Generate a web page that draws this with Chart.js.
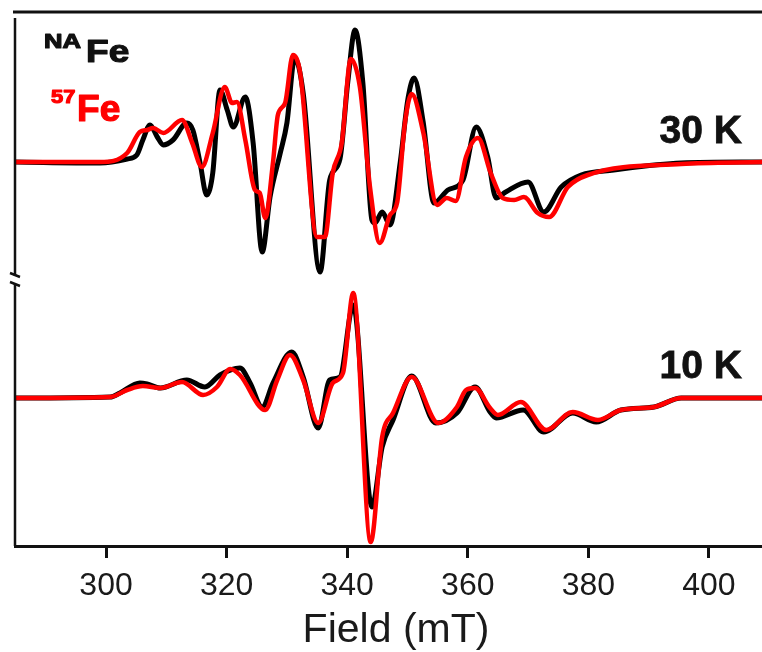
<!DOCTYPE html>
<html>
<head>
<meta charset="utf-8">
<script src="https://cdn.jsdelivr.net/npm/chart.js@4"></script>
<style>
  html, body { margin: 0; padding: 0; background: #fff; }
  canvas { display: block; }
</style>
</head>
<body>
<canvas id="chart" width="762" height="652"></canvas>
<script>
// EPR spectra, field in mT, signal in arbitrary units
const xTicks = [300, 320, 340, 360, 380, 400];
const fieldMin = 284.9;
const fieldMax = 408.8;
const offset30K = 236; // vertical stacking offset of the 30 K pair

// 30 K, natural abundance Fe (black)
const fieldNA30 = [284.9, 299.0, 303.5, 305.1, 306.1, 307.3, 308.5, 309.5, 311.1, 313.4, 314.4, 315.6, 316.7, 317.7, 318.9, 320.1, 321.1, 323.1, 324.4, 325.9, 327.2, 328.9, 330.0, 331.3, 332.7, 335.5, 337.1, 338.8, 340.1, 341.3, 342.6, 344.1, 344.6, 345.8, 347.1, 348.8, 350.1, 351.1, 352.6, 354.4, 356.7, 359.2, 361.4, 363.3, 364.7, 366.3, 370.0, 372.6, 375.5, 378.8, 384.2, 395.4, 408.8];
const signalNA30 = [0, -1, 3, 7, 22, 37, 25, 17, 22, 39, 32, -1, -33, -11, 72, 52, 35, 65, 19, -90, -35, 9, 39, 104, 69, -110, -18, 3, 80, 132, 79, -58, -61, -50, -63, 0, 64, 84, 40, -41, -28, -18, 35, 5, -36, -30, -20, -50, -25, -13, -8, -1, 0];

// 30 K, 57Fe (red)
const field5730 = [284.9, 299.0, 303.5, 305.6, 306.8, 307.8, 309.5, 312.6, 314.3, 315.9, 317.7, 319.7, 320.9, 321.7, 323.1, 324.7, 325.5, 326.4, 327.7, 328.5, 329.7, 331.0, 332.2, 335.0, 336.3, 337.6, 339.1, 340.6, 342.1, 343.8, 345.4, 347.1, 348.3, 349.6, 350.7, 352.6, 354.9, 356.5, 358.0, 359.7, 361.7, 363.8, 365.8, 367.7, 369.3, 371.6, 373.5, 376.6, 379.9, 395.4, 408.8];
const signal5730 = [0, 0, 9, 30, 32, 34, 29, 42, 19, -5, 29, 75, 59, 60, 22, -28, -31, -56, 0, 47, 59, 107, 89, -75, -75, -11, 19, 103, 75, -26, -81, -53, -40, 40, 68, 30, -43, -36, -39, 5, 24, -11, -36, -38, -35, -51, -55, -25, -13, -2, 0];

// 10 K, natural abundance Fe (black)
const fieldNA10 = [284.9, 300.7, 302.3, 305.6, 306.8, 309.0, 313.4, 316.4, 318.9, 322.2, 323.9, 325.9, 327.7, 330.8, 332.7, 335.2, 337.1, 338.8, 341.0, 344.1, 345.8, 347.6, 350.7, 354.7, 358.2, 361.2, 363.7, 364.7, 369.2, 372.6, 377.4, 381.3, 385.4, 390.9, 395.4, 408.8];
const signalNA10 = [0, 1, 5, 15, 14, 10, 18, 11, 23, 30, 15, -9, 15, 46, 21, -30, 18, 21, 93, -109, -49, -22, 22, -25, -15, 11, -14, -20, -12, -34, -15, -24, -12, -9, 0, 0];

// 10 K, 57Fe (red)
const field5710 = [284.9, 300.7, 303.5, 306.1, 309.0, 312.6, 316.1, 318.4, 320.6, 322.2, 326.4, 328.4, 330.5, 332.7, 335.2, 337.6, 339.3, 341.0, 343.9, 345.8, 347.6, 350.7, 355.1, 358.2, 359.7, 361.2, 363.7, 365.0, 368.8, 373.0, 377.4, 381.6, 385.4, 390.9, 395.4, 408.8];
const signal5710 = [0, 1, 8, 12, 10, 16, 3, 11, 29, 23, -12, 18, 43, 18, -25, 15, 25, 105, -144, -39, -15, 21, -25, -9, 8, 10, -10, -17, -4, -32, -14, -22, -12, -9, 0, 0];

const toPoints = (fields, signals, offset) =>
    fields.map((f, i) => ({ x: f, y: signals[i] + offset }));

const fontFamily = '"Liberation Sans", Arial, sans-serif';

// axis frame, y-axis break and the text labels
const decorations = {
    id: 'decorations',
    afterDraw(chart) {
        const { ctx, chartArea } = chart;
        const left = chartArea.left;
        ctx.save();
        ctx.strokeStyle = '#111';
        ctx.lineCap = 'butt';

        // top frame line
        ctx.lineWidth = 3;
        ctx.beginPath();
        ctx.moveTo(left - 2, chartArea.top);
        ctx.lineTo(chartArea.right, chartArea.top);
        ctx.stroke();

        // left axis with break
        ctx.lineWidth = 2.5;
        ctx.beginPath();
        ctx.moveTo(left, chartArea.top + 6);
        ctx.lineTo(left, 276);
        ctx.moveTo(left, 284);
        ctx.lineTo(left, chartArea.bottom);
        ctx.stroke();
        ctx.beginPath();
        ctx.moveTo(left - 5, 273);
        ctx.lineTo(left + 5, 277);
        ctx.moveTo(left - 5, 282);
        ctx.lineTo(left + 5, 286);
        ctx.stroke();

        // sample labels (stretched, heavy bold text)
        const stretched = (text, x, y, size, sx, color) => {
            ctx.save();
            ctx.translate(x, y);
            ctx.scale(sx, 1);
            ctx.font = `bold ${size}px ${fontFamily}`;
            ctx.fillStyle = color;
            ctx.strokeStyle = color;
            ctx.lineWidth = 1.2;
            ctx.lineJoin = 'round';
            ctx.textAlign = 'left';
            ctx.textBaseline = 'alphabetic';
            ctx.fillText(text, 0, 0);
            ctx.strokeText(text, 0, 0);
            ctx.restore();
        };
        stretched('NA', 44, 48, 21, 1.22, '#111');
        stretched('Fe', 86, 62, 32, 1.16, '#111');
        stretched('57', 51, 103, 19, 1.15, '#ff0000');
        stretched('Fe', 77, 121, 36, 1.03, '#ff0000');

        // temperatures
        ctx.font = `bold 39px ${fontFamily}`;
        ctx.fillStyle = '#111';
        ctx.strokeStyle = '#111';
        ctx.lineWidth = 0.8;
        ctx.textAlign = 'right';
        ctx.fillText('30 K', 742, 143);
        ctx.strokeText('30 K', 742, 143);
        ctx.fillText('10 K', 742, 378);
        ctx.strokeText('10 K', 742, 378);

        // x axis title
        ctx.font = `41px ${fontFamily}`;
        ctx.fillStyle = '#1a1a1a';
        ctx.textAlign = 'center';
        ctx.fillText('Field (mT)', 396, 642);
        ctx.restore();
    }
};

const lineStyle = {
    fill: false,
    pointRadius: 0,
    cubicInterpolationMode: 'monotone',
    borderJoinStyle: 'round',
    borderCapStyle: 'round',
};

new Chart(document.getElementById('chart'), {
    type: 'line',
    data: {
        datasets: [
            { ...lineStyle, label: '57Fe 30 K', data: toPoints(field5730, signal5730, offset30K), borderColor: '#ff0000', borderWidth: 4.5, order: 0 },
            { ...lineStyle, label: '57Fe 10 K', data: toPoints(field5710, signal5710, 0), borderColor: '#ff0000', borderWidth: 4.5, order: 0 },
            { ...lineStyle, label: 'NAFe 30 K', data: toPoints(fieldNA30, signalNA30, offset30K), borderColor: '#000000', borderWidth: 5, order: 1 },
            { ...lineStyle, label: 'NAFe 10 K', data: toPoints(fieldNA10, signalNA10, 0), borderColor: '#000000', borderWidth: 5, order: 1 },
        ]
    },
    options: {
        responsive: false,
        animation: false,
        devicePixelRatio: 1,
        layout: { padding: { left: 15, top: 12, right: 0, bottom: 0 } },
        plugins: {
            legend: { display: false },
            tooltip: { enabled: false },
        },
        scales: {
            x: {
                type: 'linear',
                min: fieldMin,
                max: fieldMax,
                afterFit: (scale) => { scale.height = 106; },
                afterBuildTicks: (scale) => { scale.ticks = xTicks.map(v => ({ value: v })); },
                border: { display: true, color: '#111', width: 3 },
                grid: { drawOnChartArea: false, drawTicks: true, tickLength: 12, lineWidth: 3, color: '#111' },
                ticks: {
                    padding: 9,
                    color: '#1a1a1a',
                    font: { family: fontFamily, size: 32 },
                    maxRotation: 0,
                },
            },
            y: {
                display: false,
                min: -148,
                max: 386,
            }
        }
    },
    plugins: [decorations],
});
</script>
</body>
</html>
